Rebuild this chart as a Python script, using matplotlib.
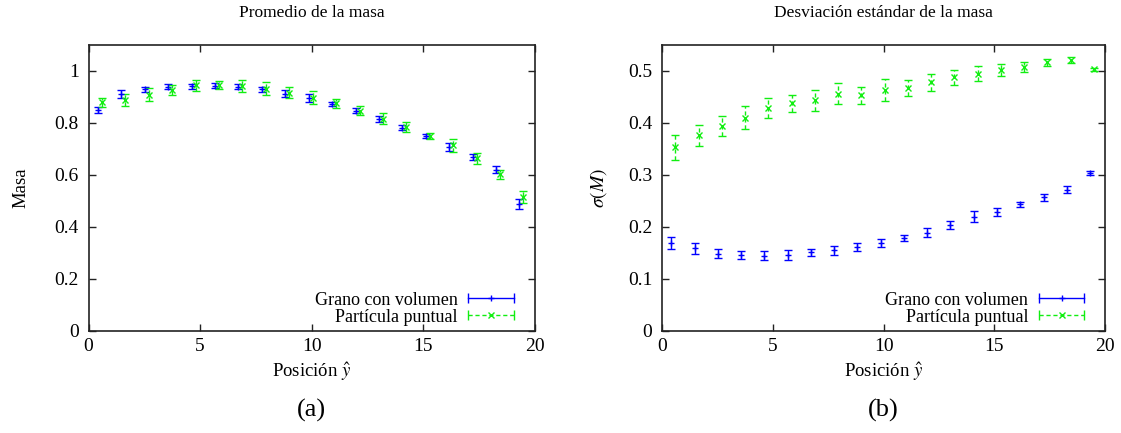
import matplotlib
matplotlib.use("Agg")
import matplotlib.pyplot as plt
from matplotlib.lines import Line2D
from matplotlib.legend_handler import HandlerLine2D, HandlerTuple
from matplotlib.ticker import FuncFormatter

plt.rcParams["font.family"] = "serif"
plt.rcParams["font.serif"] = ["Liberation Serif", "DejaVu Serif"]
plt.rcParams["mathtext.fontset"] = "stix"

# bin centres along y-hat (the two series are drawn slightly shifted)
pos_grano = [0.42, 1.47, 2.52, 3.57, 4.62, 5.67, 6.72, 7.77, 8.82, 9.87,
             10.92, 11.97, 13.02, 14.07, 15.12, 16.17, 17.22, 18.27, 19.32]
pos_punt = [0.60, 1.65, 2.70, 3.75, 4.80, 5.85, 6.90, 7.95, 9.00, 10.05,
            11.10, 12.15, 13.20, 14.25, 15.30, 16.35, 17.40, 18.45, 19.50]

# mean mass
masa_grano = [0.850, 0.910, 0.929, 0.939, 0.941, 0.944, 0.939, 0.929, 0.913, 0.896,
              0.873, 0.847, 0.816, 0.782, 0.751, 0.708, 0.669, 0.621, 0.489]
masa_grano_err = [0.010, 0.015, 0.008, 0.010, 0.010, 0.010, 0.010, 0.008, 0.012, 0.014,
                  0.008, 0.009, 0.012, 0.010, 0.008, 0.016, 0.010, 0.012, 0.018]
masa_punt = [0.880, 0.887, 0.909, 0.928, 0.945, 0.945, 0.942, 0.932, 0.917, 0.898,
             0.876, 0.848, 0.816, 0.784, 0.751, 0.715, 0.664, 0.602, 0.515]
masa_punt_err = [0.017, 0.023, 0.025, 0.020, 0.021, 0.016, 0.023, 0.025, 0.021, 0.024,
                 0.018, 0.018, 0.021, 0.019, 0.012, 0.025, 0.021, 0.019, 0.023]

# standard deviation of the mass
sd_grano = [0.169, 0.159, 0.149, 0.146, 0.145, 0.146, 0.151, 0.155, 0.161, 0.169,
            0.179, 0.189, 0.204, 0.220, 0.229, 0.244, 0.257, 0.272, 0.304]
sd_grano_err = [0.011, 0.011, 0.009, 0.008, 0.008, 0.010, 0.006, 0.009, 0.008, 0.008,
                0.005, 0.009, 0.008, 0.010, 0.007, 0.005, 0.007, 0.006, 0.004]
sd_punt = [0.353, 0.376, 0.394, 0.410, 0.429, 0.438, 0.444, 0.456, 0.453, 0.463,
           0.467, 0.478, 0.488, 0.495, 0.502, 0.508, 0.517, 0.521, 0.503]
sd_punt_err = [0.024, 0.020, 0.019, 0.022, 0.019, 0.016, 0.020, 0.020, 0.016, 0.021,
               0.016, 0.016, 0.014, 0.014, 0.012, 0.009, 0.007, 0.006, 0.003]

BLUE = "#0000ff"
GREEN = "#11ee11"
FRAME = "#222222"


def gp_label(v, _):
    return "%g" % round(v, 6)


def style_axes(ax, ylim, ystep):
    ax.set_xlim(0, 20)
    ax.set_ylim(*ylim)
    ax.set_xticks(range(0, 21, 5))
    n = int(round(ylim[1] // ystep)) + 1
    ax.set_yticks([round(i * ystep, 6) for i in range(n) if i * ystep <= ylim[1] + 1e-9])
    ax.yaxis.set_major_formatter(FuncFormatter(gp_label))
    ax.tick_params(direction="in", top=True, right=True, length=5, width=1,
                   color=FRAME, labelsize=14)
    ax.tick_params(axis="x", pad=5)
    ax.tick_params(axis="y", pad=7)
    for s in ax.spines.values():
        s.set_color(FRAME)
        s.set_linewidth(1.2)
    ax.set_xlabel(r"Posición $\hat{y}$", fontsize=13.5, labelpad=4)


def draw_series(ax, x_g, y_g, e_g, x_p, y_p, e_p):
    ax.errorbar(x_g, y_g, yerr=e_g, fmt="+", color=BLUE, ms=4, mew=1,
                elinewidth=1, capsize=3, capthick=1)
    eb = ax.errorbar(x_p, y_p, yerr=e_p, fmt="x", color=GREEN, ms=4, mew=1,
                     elinewidth=1, capsize=3, capthick=1)
    for col in eb[2]:
        col.set_linestyle((0, (3, 2)))

    # gnuplot-like key: horizontal line with end caps and the point marker
    g_line = Line2D([], [], color=BLUE, lw=1, marker="+", ms=4)
    g_caps = Line2D([], [], color=BLUE, lw=0, marker="|", ms=7, mew=1)
    p_line = Line2D([], [], color=GREEN, lw=1, ls=(0, (3, 2)), marker="x", ms=4)
    p_caps = Line2D([], [], color=GREEN, lw=0, marker="|", ms=7, mew=1)
    hmap = {g_line: HandlerLine2D(numpoints=1), p_line: HandlerLine2D(numpoints=1),
            g_caps: HandlerLine2D(numpoints=2, marker_pad=0),
            p_caps: HandlerLine2D(numpoints=2, marker_pad=0),
            tuple: HandlerTuple(ndivide=1, pad=0)}
    ax.legend([(g_line, g_caps), (p_line, p_caps)],
              ["Grano con volumen", "Partícula puntual"],
              handler_map=hmap, loc="lower right", bbox_to_anchor=(0.965, 0.0),
              frameon=False, fontsize=13, markerfirst=False, handlelength=2.5,
              handletextpad=0.6, labelspacing=0.0, borderpad=0.3, borderaxespad=0.0)


fig = plt.figure(figsize=(11.21, 4.33), dpi=100)
ax1 = fig.add_axes([0.079, 0.2356, 0.3979, 0.6605])
ax2 = fig.add_axes([0.5906, 0.2356, 0.3952, 0.6605])

draw_series(ax1, pos_grano, masa_grano, masa_grano_err, pos_punt, masa_punt, masa_punt_err)
style_axes(ax1, (0, 1.1), 0.2)
ax1.set_ylabel("Masa", fontsize=13.5, labelpad=18)
ax1.set_title("Promedio de la masa", fontsize=12.5, pad=20)

draw_series(ax2, pos_grano, sd_grano, sd_grano_err, pos_punt, sd_punt, sd_punt_err)
style_axes(ax2, (0, 0.55), 0.1)
ax2.set_ylabel(r"$\sigma(M)$", fontsize=14, labelpad=14)
ax2.set_title("Desviación estándar de la masa", fontsize=12.5, pad=20)

fig.text(0.2778, 0.052, "(a)", ha="center", va="center", fontsize=19)
fig.text(0.7879, 0.052, "(b)", ha="center", va="center", fontsize=19)

fig.savefig("out.png", dpi=100)
